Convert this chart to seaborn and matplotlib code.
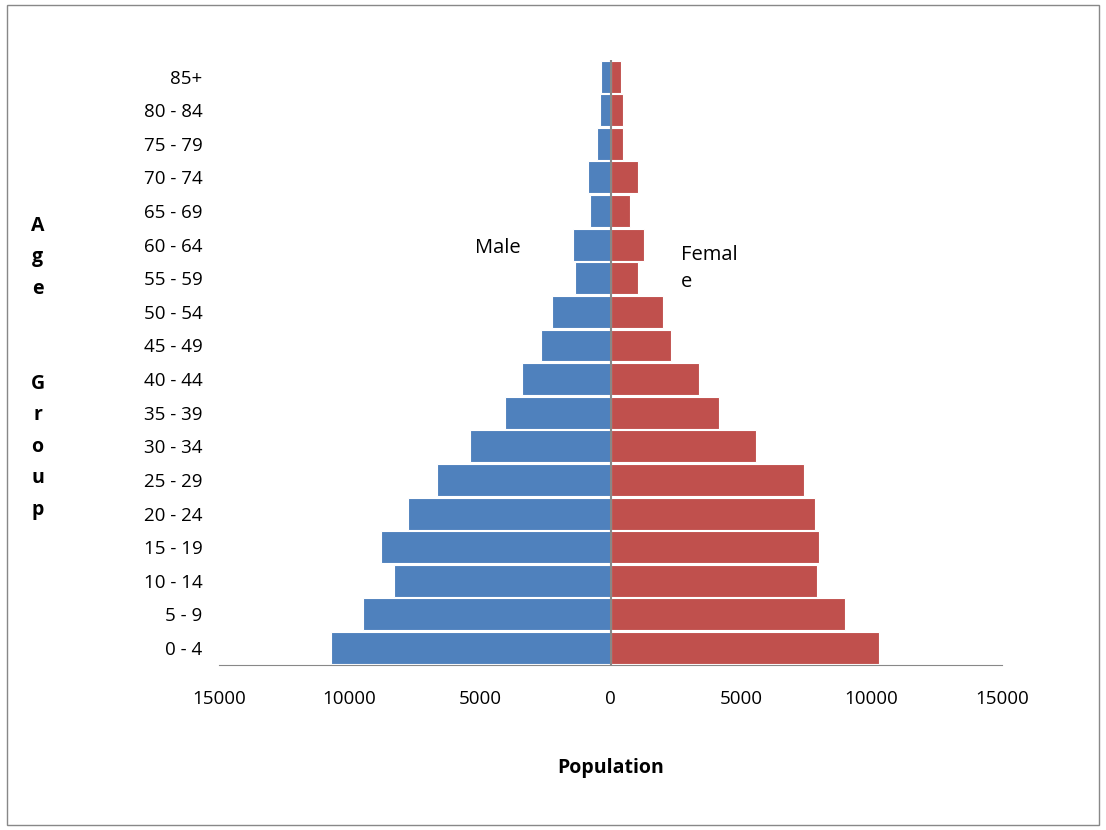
import pandas as pd
import numpy as np
import matplotlib
matplotlib.use("Agg")
import matplotlib.pyplot as plt
import seaborn as sns

ages = ["0 - 4", "5 - 9", "10 - 14", "15 - 19", "20 - 24", "25 - 29", "30 - 34", "35 - 39",
        "40 - 44", "45 - 49", "50 - 54", "55 - 59", "60 - 64", "65 - 69", "70 - 74",
        "75 - 79", "80 - 84", "85+"]
male = [10700, 9500, 8300, 8800, 7750, 6650, 5400, 4050, 3380, 2650, 2260, 1350, 1420,
        770, 880, 500, 420, 350]
female = [10280, 8980, 7900, 7980, 7830, 7400, 5560, 4140, 3380, 2300, 2030, 1040, 1300,
          730, 1040, 460, 480, 420]

sns.set_style("white")
plt.rcParams["font.family"] = ["Open Sans", "DejaVu Sans"]
plt.rcParams["text.color"] = "black"
plt.rcParams["xtick.color"] = "black"
plt.rcParams["ytick.color"] = "black"
plt.rcParams["axes.labelcolor"] = "black"

order = ages[::-1]
df = pd.DataFrame({"age": ages * 2,
                   "pop": [-m for m in male] + female,
                   "sex": ["Male"] * len(ages) + ["Female"] * len(ages)})

fig = plt.figure(figsize=(11.06, 8.30), dpi=100)
ax = fig.add_axes([0.198, 0.199, 0.708, 0.729])
sns.barplot(data=df, x="pop", y="age", hue="sex", order=order, dodge=False,
            palette={"Male": "#4f81bd", "Female": "#c0504d"}, saturation=1, width=0.95,
            edgecolor="white", linewidth=0.8, legend=False, ax=ax)
ax.axvline(0, color="#888888", lw=1.5, zorder=5)
ax.set_xlim(-15000, 15000)
ax.set_ylim(len(ages) - 0.5, -0.5)
ticks = np.arange(-15000, 15001, 5000)
ax.set_xticks(ticks)
ax.set_xticklabels([str(abs(t)) for t in ticks], fontsize=13.5)
ax.tick_params(axis="x", direction="out", length=6, color="#888888", pad=12)
ax.tick_params(axis="y", length=0, labelsize=13.5, pad=12)
for s in ["top", "right", "left"]:
    ax.spines[s].set_visible(False)
ax.spines["bottom"].set_color("#888888")
ax.set_xlabel("Population", fontsize=14, fontweight="bold", labelpad=36)
ax.set_ylabel("")
fig.text(0.034, 0.74, "A\ng\ne\n\n\nG\nr\no\nu\np", fontsize=14, fontweight="bold",
         va="top", ha="center", linespacing=1.77)
ax.text(-4300, 5.1, "Male", fontsize=14.5, va="center", ha="center")
ax.text(2700, 5.7, "Femal\ne", fontsize=14.5, va="center", ha="left", linespacing=1.45)
fig.patches.append(plt.Rectangle((0.006, 0.006), 0.988, 0.988, transform=fig.transFigure,
                                 fill=False, edgecolor="#888888", lw=1))
fig.savefig("out.png", dpi=100)
